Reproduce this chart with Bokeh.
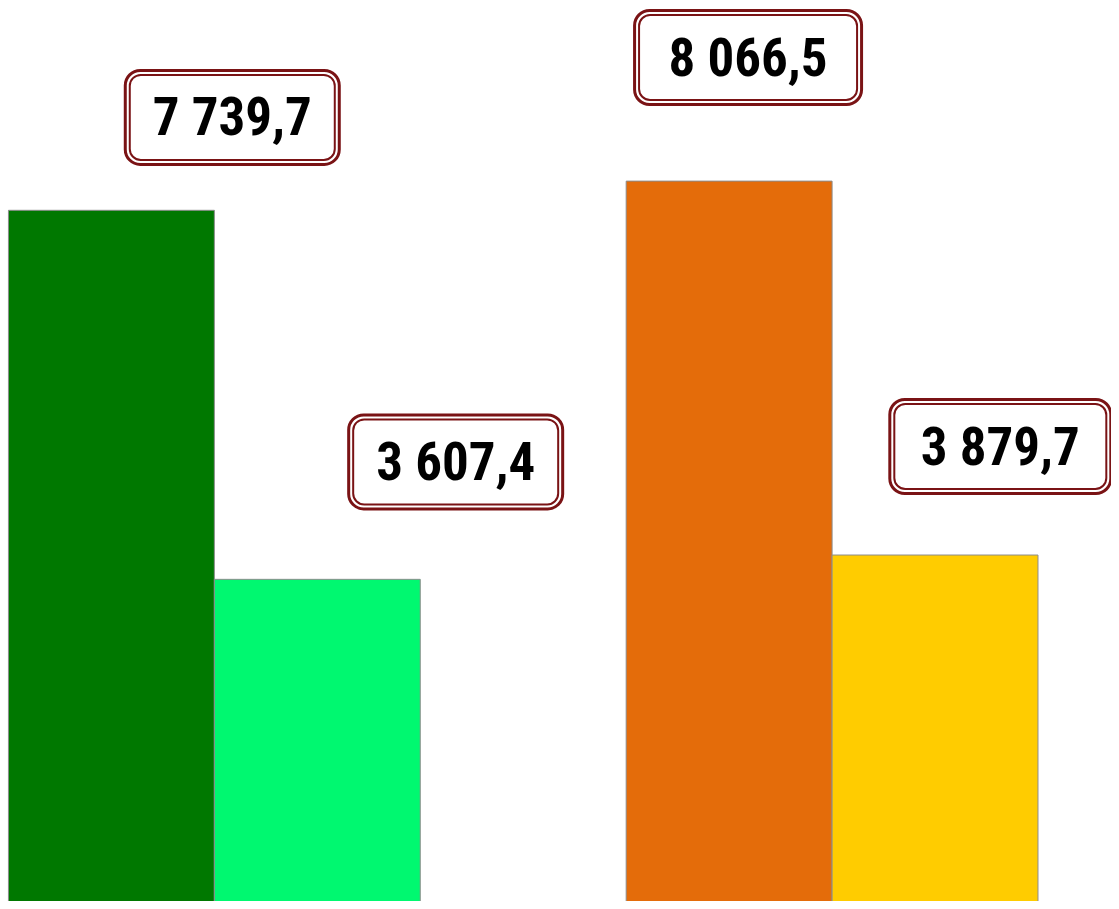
from bokeh.plotting import figure
from bokeh.models import Range1d, ColumnDataSource
from bokeh.core.properties import value
from bokeh.embed import file_html
from bokeh.resources import INLINE

# ---- data ----
categories = ["A1", "A2", "B1", "B2"]
values = [7739.7, 3607.4, 8066.5, 3879.7]
labels = ["7 739,7", "3 607,4", "8 066,5", "3 879,7"]
colors = ["#007800", "#00F870", "#E46C0A", "#FFCC00"]

# ---- layout (not data) ----
bar_pos = [0.5, 1.5, 3.5, 4.5]          # bar centres in bar-width units
label_dx = [0.587, 0.672, 0.092, 0.317]  # label centre offset from bar centre (bar units)
label_dy = [1040, 1315, 1384, 1215]      # label centre offset above bar top (value units)
box_w_px = [217, 217, 230, 224]
box_h_px = 97

W, H = 1111, 901
X_MIN, X_MAX = -0.0386, 5.357
Y_MAX = 10089.0
px_x = (X_MAX - X_MIN) / W
px_y = Y_MAX / H

p = figure(width=W, height=H, output_backend="svg", toolbar_location=None,
           x_range=Range1d(X_MIN, X_MAX), y_range=Range1d(0, Y_MAX),
           min_border=0, min_border_left=0, min_border_right=0,
           min_border_top=0, min_border_bottom=0)
p.axis.visible = False
p.grid.visible = False
p.outline_line_color = None
p.background_fill_color = "white"
p.border_fill_color = "white"

src = ColumnDataSource(dict(x=bar_pos, top=values, color=colors))
p.vbar(x="x", top="top", bottom=0, width=1.0, fill_color="color",
       line_color="#8c8c8c", line_width=1, source=src)

cx = [b + d for b, d in zip(bar_pos, label_dx)]
cy = [v + d for v, d in zip(values, label_dy)]

def quad_src(inset):
    l, r, t, b = [], [], [], []
    for x, y, w in zip(cx, cy, box_w_px):
        hw = (w / 2 - inset) * px_x
        hh = (box_h_px / 2 - inset) * px_y
        l.append(x - hw); r.append(x + hw)
        b.append(y - hh); t.append(y + hh)
    return ColumnDataSource(dict(left=l, right=r, top=t, bottom=b))

p.quad(left="left", right="right", top="top", bottom="bottom",
       source=quad_src(1.5), fill_color="white", line_color="#7A1315",
       line_width=3, border_radius=15)
p.quad(left="left", right="right", top="top", bottom="bottom",
       source=quad_src(6), fill_color=None, line_color="#7A1315",
       line_width=2, border_radius=11)

tsrc = ColumnDataSource(dict(x=cx, y=cy, text=labels))
p.text(x="x", y="y", text="text", source=tsrc,
       text_font=value("Arial Narrow, Liberation Sans Narrow, Roboto Condensed, Roboto"),
       text_font_style="bold", text_font_size="53px", text_color="black",
       text_align="center", text_baseline="middle")

open("out.html", "w").write(file_html(p, INLINE))
